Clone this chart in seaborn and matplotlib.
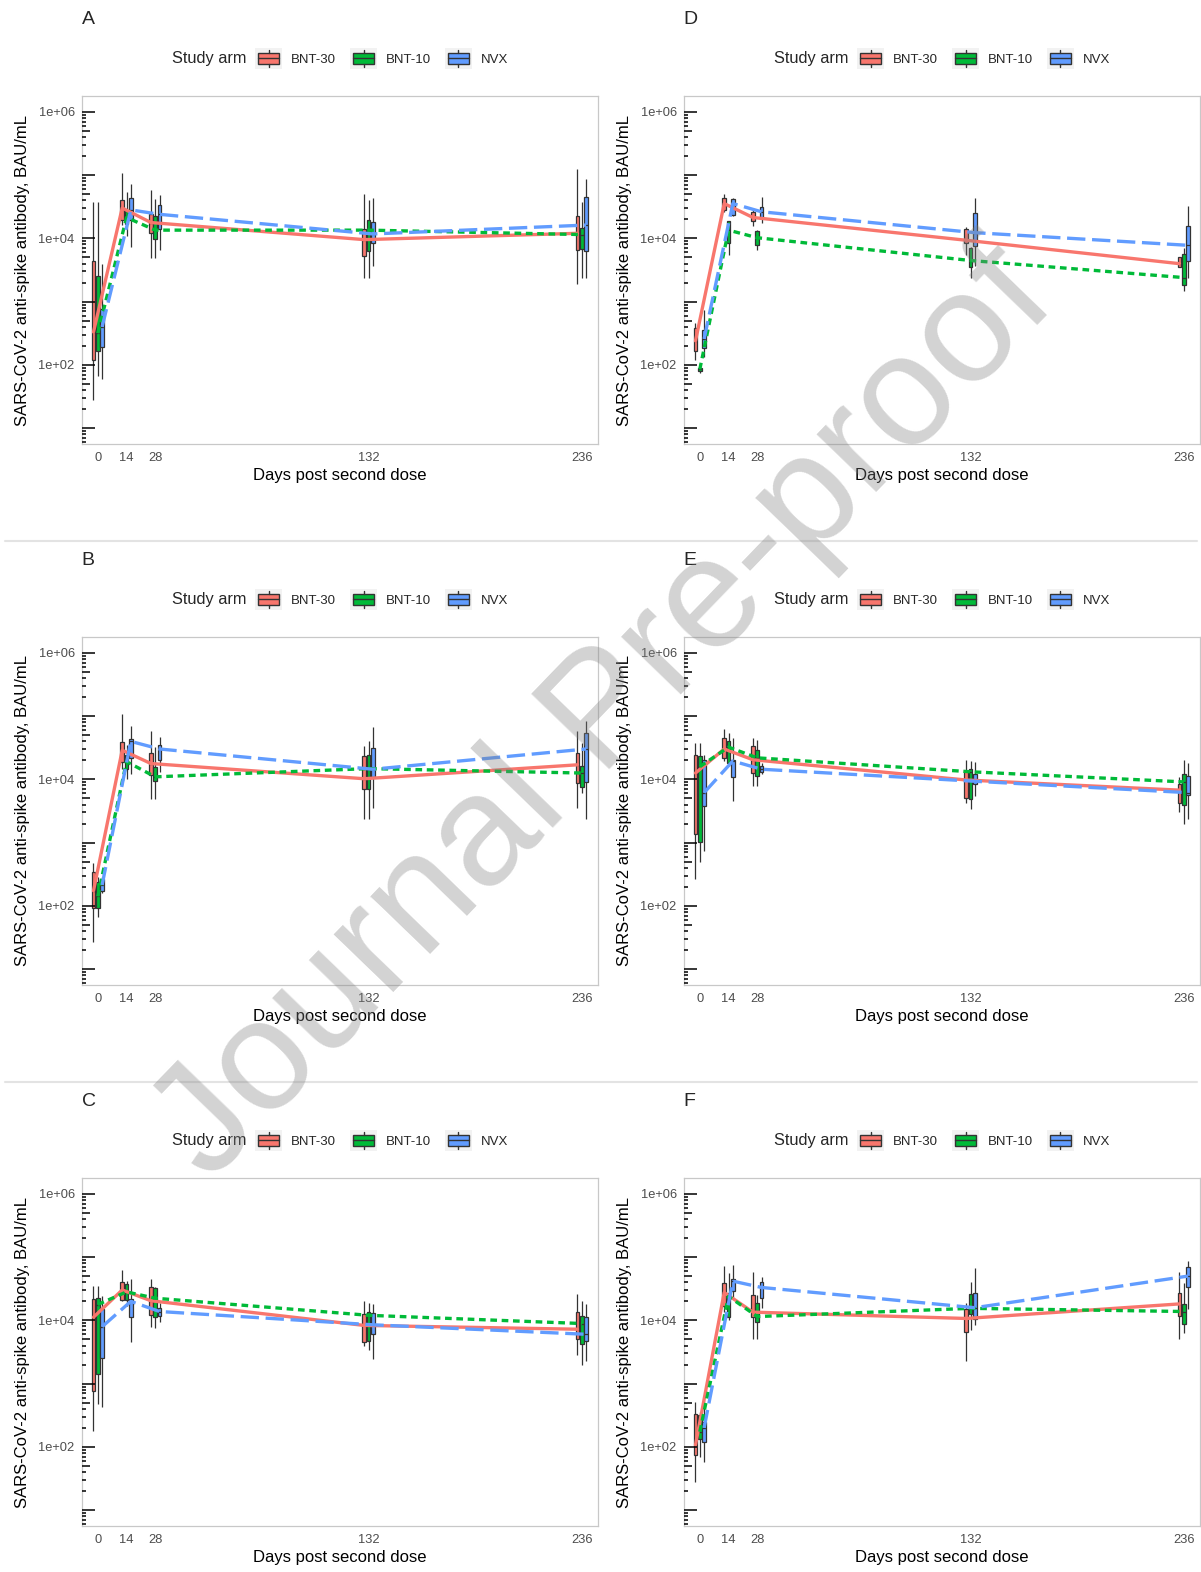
import numpy as np
import pandas as pd
import seaborn as sns
import matplotlib
matplotlib.use("Agg")
import matplotlib.pyplot as plt
from matplotlib.patches import Rectangle, Patch
from matplotlib.lines import Line2D
from matplotlib.legend_handler import HandlerBase
from matplotlib.ticker import NullLocator

# --- data ---------------------------------------------------------------
days = [0, 14, 28, 132, 236]
arms = ["BNT-30", "BNT-10", "NVX"]
arm_colors = ["#F8766D", "#00BA38", "#619CFF"]

# log10(BAU/mL) per box: [whisker low, Q1, median, Q3, whisker high]
# rows go day by day (0, 14, 28, 132, 236), arms BNT-30, BNT-10, NVX
panel_A = [
    [1.45, 2.07, 2.52, 3.65, 4.57], [1.83, 2.22, 2.50, 3.41, 4.57], [1.77, 2.29, 2.60, 2.88, 3.59],
    [4.21, 4.29, 4.48, 4.61, 5.04], [4.04, 4.22, 4.33, 4.44, 4.74], [3.86, 4.29, 4.45, 4.64, 4.86],
    [3.69, 4.08, 4.25, 4.38, 4.77], [3.69, 3.99, 4.13, 4.36, 4.63], [3.82, 4.15, 4.38, 4.53, 4.69],
    [3.37, 3.72, 3.98, 4.15, 4.70], [3.37, 3.80, 4.13, 4.29, 4.60], [3.56, 3.92, 4.07, 4.26, 4.64],
    [3.28, 3.82, 4.08, 4.36, 5.10], [3.38, 3.83, 4.06, 4.17, 4.58], [3.38, 3.80, 4.21, 4.65, 4.94],
]
panel_B = [
    [1.43, 1.97, 2.24, 2.53, 2.68], [1.83, 1.96, 2.15, 2.38, 2.45], [2.21, 2.24, 2.33, 2.42, 2.45],
    [4.17, 4.28, 4.46, 4.59, 5.03], [4.00, 4.17, 4.28, 4.38, 4.54], [4.09, 4.33, 4.60, 4.64, 4.85],
    [3.69, 4.07, 4.25, 4.41, 4.76], [3.69, 3.98, 4.04, 4.20, 4.51], [4.12, 4.30, 4.48, 4.55, 4.67],
    [3.37, 3.85, 4.01, 4.37, 4.53], [3.37, 3.84, 4.17, 4.39, 4.60], [3.55, 4.03, 4.16, 4.50, 4.82],
    [3.55, 3.95, 4.23, 4.42, 4.76], [3.79, 3.88, 4.10, 4.21, 4.57], [3.37, 3.96, 4.48, 4.74, 4.93],
]
panel_C = [
    [2.25, 2.89, 4.05, 4.33, 4.54], [2.68, 3.15, 4.25, 4.35, 4.54], [2.63, 3.41, 3.90, 4.18, 4.39],
    [4.30, 4.32, 4.48, 4.60, 4.79], [4.22, 4.32, 4.45, 4.57, 4.63], [3.66, 4.05, 4.30, 4.33, 4.66],
    [3.90, 4.09, 4.31, 4.53, 4.65], [3.88, 4.05, 4.35, 4.51, 4.52], [3.97, 4.07, 4.14, 4.19, 4.28],
    [3.59, 3.66, 3.92, 4.10, 4.31], [3.53, 3.67, 4.08, 4.13, 4.28], [3.39, 3.78, 3.93, 4.11, 4.26],
    [3.46, 3.70, 3.86, 4.13, 4.42], [3.29, 3.62, 3.95, 4.07, 4.30], [3.36, 3.67, 3.78, 4.05, 4.26],
]
panel_D = [
    [2.08, 2.22, 2.38, 2.59, 2.67], [1.88, 1.90, 1.93, 1.95, 1.96], [2.12, 2.26, 2.41, 2.55, 2.87],
    [4.42, 4.45, 4.55, 4.64, 4.70], [3.73, 3.93, 4.13, 4.27, 4.28], [4.35, 4.37, 4.55, 4.63, 4.64],
    [4.20, 4.27, 4.33, 4.41, 4.45], [3.82, 3.90, 4.01, 4.12, 4.14], [4.24, 4.32, 4.42, 4.50, 4.66],
    [3.73, 3.92, 3.97, 4.15, 4.18], [3.37, 3.55, 3.65, 3.85, 3.86], [3.56, 3.88, 4.09, 4.40, 4.64],
    [3.54, 3.55, 3.60, 3.70, 3.71], [3.17, 3.26, 3.38, 3.76, 3.85], [3.37, 3.64, 3.89, 4.19, 4.51],
]
panel_E = [
    [2.43, 3.14, 4.10, 4.38, 4.57], [2.69, 3.01, 4.20, 4.37, 4.57], [2.87, 3.58, 3.79, 4.31, 4.39],
    [4.29, 4.34, 4.48, 4.65, 4.80], [4.21, 4.26, 4.51, 4.60, 4.73], [3.66, 4.03, 4.29, 4.31, 4.65],
    [3.90, 4.10, 4.31, 4.53, 4.65], [3.90, 4.05, 4.34, 4.47, 4.63], [4.08, 4.12, 4.16, 4.21, 4.26],
    [3.63, 3.71, 3.99, 4.13, 4.31], [3.53, 3.69, 4.12, 4.16, 4.29], [3.74, 3.92, 3.97, 4.08, 4.27],
    [3.48, 3.63, 3.83, 3.92, 4.04], [3.29, 3.59, 3.96, 4.08, 4.30], [3.37, 3.76, 3.79, 4.05, 4.26],
]
panel_F = [
    [1.45, 1.88, 2.03, 2.52, 2.71], [1.84, 2.13, 2.24, 2.50, 2.55], [1.76, 2.07, 2.30, 2.39, 2.75],
    [4.13, 4.23, 4.44, 4.59, 4.86], [4.00, 4.05, 4.38, 4.43, 4.75], [4.36, 4.47, 4.62, 4.66, 4.87],
    [3.71, 4.05, 4.13, 4.40, 4.77], [3.71, 3.97, 4.06, 4.28, 4.40], [4.20, 4.36, 4.52, 4.60, 4.68],
    [3.36, 3.81, 4.03, 4.18, 4.28], [3.84, 4.10, 4.19, 4.41, 4.60], [3.92, 4.02, 4.20, 4.44, 4.82],
    [3.71, 4.07, 4.26, 4.43, 4.77], [3.80, 3.94, 4.14, 4.26, 4.59], [4.18, 4.52, 4.70, 4.85, 4.94],
]

panels = {"A": panel_A, "B": panel_B, "C": panel_C,
          "D": panel_D, "E": panel_E, "F": panel_F}
# (row, column) of each panel
panel_grid = {"A": (0, 0), "B": (1, 0), "C": (2, 0),
              "D": (0, 1), "E": (1, 1), "F": (2, 1)}

ytick_vals = [1e2, 1e4, 1e6]
ytick_labels = ["1e+02", "1e+04", "1e+06"]

# --- styling --------------------------------------------------------------
palette = dict(zip(arms, arm_colors))
dash_map = {"BNT-30": "", "BNT-10": (2.0, 1.4), "NVX": (5.5, 2.0)}
BOX_WIDTH = 0.45          # share of the 14-day spacing used by one dodged group
DAY_STEP = 14
step = BOX_WIDTH * DAY_STEP / len(arms)
arm_offset = {a: (i - (len(arms) - 1) / 2) * step for i, a in enumerate(arms)}

sns.set_theme(style="white")
plt.rcParams["font.family"] = ["Liberation Sans", "DejaVu Sans"]

W, H = 1201, 1572
fig = plt.figure(figsize=(W / 100, H / 100), dpi=100)
fig.patch.set_facecolor("white")

col_left = [81.6, 683.6]
row_top = [96, 637, 1178]
pw, ph = 516.4, 348


class BoxKey(HandlerBase):
    # ggplot-like boxplot legend key on a grey square
    def create_artists(self, legend, orig_handle, xdescent, ydescent,
                       width, height, fontsize, trans):
        fc = orig_handle.get_facecolor()
        x0, y0 = -xdescent, -ydescent
        bg = Rectangle((x0, y0), width, height, facecolor="#F2F2F2",
                       edgecolor="none", transform=trans)
        bw, bh = width * 0.78, height * 0.54
        bx, by = x0 + (width - bw) / 2, y0 + (height - bh) / 2
        box = Rectangle((bx, by), bw, bh, facecolor=fc, edgecolor="#333333",
                        lw=1.0, transform=trans)
        cx, cy = x0 + width / 2, y0 + height / 2
        med = Line2D([bx, bx + bw], [cy, cy], color="#333333", lw=1.0, transform=trans)
        w1 = Line2D([cx, cx], [y0 + height * 0.08, by], color="#333333", lw=1.0, transform=trans)
        w2 = Line2D([cx, cx], [by + bh, y0 + height * 0.92], color="#333333", lw=1.0, transform=trans)
        return [bg, box, med, w1, w2]


for letter, rows in panels.items():
    r, c = panel_grid[letter]
    ax = fig.add_axes([col_left[c] / W, 1 - (row_top[r] + ph) / H, pw / W, ph / H])

    recs = []
    line_recs = []
    for i, row in enumerate(rows):
        day = days[i // len(arms)]
        arm = arms[i % len(arms)]
        for v in row:
            recs.append({"day": day, "arm": arm, "value": 10 ** v})
        line_recs.append({"x": day + arm_offset[arm], "arm": arm, "value": 10 ** row[2]})
    box_df = pd.DataFrame(recs)
    line_df = pd.DataFrame(line_recs)

    sns.boxplot(data=box_df, x="day", y="value", hue="arm", hue_order=arms,
                palette=palette, native_scale=True, log_scale=(False, True),
                width=BOX_WIDTH, gap=0.15, whis=(0, 100), saturation=1,
                linecolor="#333333", linewidth=0.9, showcaps=False,
                showfliers=False, legend=False, ax=ax)
    sns.lineplot(data=line_df, x="x", y="value", hue="arm", style="arm",
                 hue_order=arms, style_order=arms, palette=palette,
                 dashes=dash_map, linewidth=2.4, estimator=None,
                 legend=False, ax=ax, zorder=5)

    ax.set_xlim(-7.9, 243.9)
    ax.set_ylim(10 ** 0.75, 10 ** 6.25)
    ax.set_xticks(days)
    ax.set_xticklabels([str(d) for d in days])
    ax.set_yticks(ytick_vals)
    ax.set_yticklabels(ytick_labels)
    ax.yaxis.set_minor_locator(NullLocator())
    ax.tick_params(axis="both", which="major", length=3, width=0.8,
                   color="#B3B3B3", labelcolor="#4D4D4D", labelsize=9.3, pad=2)
    ax.tick_params(axis="x", pad=3)
    for sp in ax.spines.values():
        sp.set_visible(True)
        sp.set_color("#C8C8C8")
        sp.set_linewidth(0.9)

    # log ticks along the left edge (long / mid / short)
    ylo, yhi = ax.get_ylim()
    for k in range(0, 7):
        for m in range(1, 10):
            v = m * 10 ** k
            if ylo <= v <= yhi:
                L = 0.025 if m == 1 else (0.017 if m == 5 else 0.0085)
                ax.plot([0, L], [v, v], transform=ax.get_yaxis_transform(),
                        color="black", lw=1.1, solid_capstyle="butt", zorder=6)

    ax.set_xlabel("Days post second dose", fontsize=12, color="black")
    ax.set_ylabel("SARS-CoV-2 anti-spike antibody, BAU/mL", fontsize=12, color="black")
    ax.xaxis.set_label_coords(0.5, -0.07)
    ax.yaxis.set_label_coords(-0.100, 0.5)

    ax.text(0.0, 1.22, letter, transform=ax.transAxes, fontsize=14,
            ha="left", va="center")

    ax.text(0.320, 1.108, "Study arm", transform=ax.transAxes, fontsize=11.8,
            ha="right", va="center")
    handles = [Patch(facecolor=col) for col in arm_colors]
    ax.legend(handles, arms, handler_map={Patch: BoxKey()}, ncol=3,
              loc="center", bbox_to_anchor=(0.581, 1.108), frameon=False,
              fontsize=9.5, handlelength=2.05, handleheight=2.0,
              handletextpad=0.66, columnspacing=1.06, borderpad=0,
              borderaxespad=0)

# thin separators between rows
for yp in [541, 1082]:
    fig.add_artist(Line2D([5 / W, 1197 / W], [1 - yp / H] * 2, color="#E3E3E3",
                          lw=1.5, transform=fig.transFigure))

# watermark
fig.text(0.504, 0.545, "Journal Pre-proof", rotation=46, fontsize=114,
         color="#808080", alpha=0.35, ha="center", va="center",
         rotation_mode="anchor", zorder=100)

fig.savefig("out.png", dpi=100, facecolor="white")
